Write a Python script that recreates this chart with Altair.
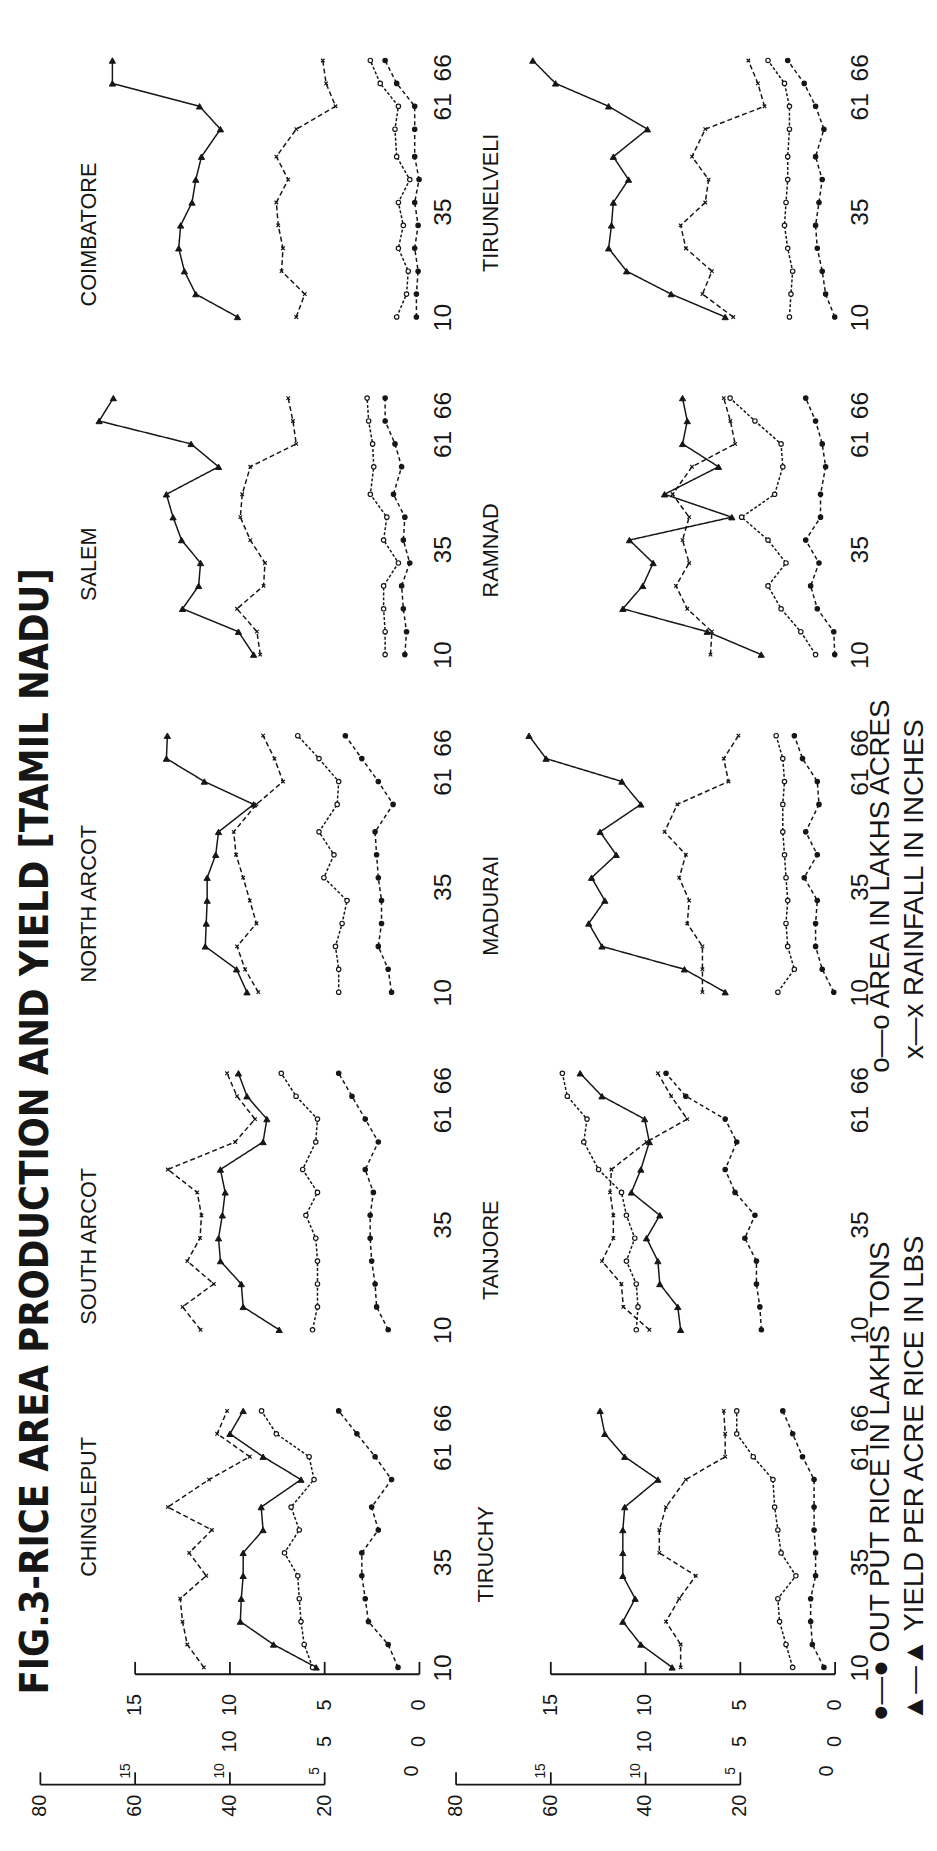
import altair as alt
import pandas as pd

INK = "#161616"

YEARS = [10, 15, 20, 25, 30, 35, 40, 45, 51, 56, 61, 66]
# where the year labels stand along each panel (hand-lettered in the original)
YEAR_LABEL_AT = [10, 33, 56, 64.5]
YEAR_LABELS = ["10", "35", "61", "66"]

COLUMN_1 = ["COIMBATORE", "SALEM", "NORTH ARCOT", "SOUTH ARCOT", "CHINGLEPUT"]
COLUMN_2 = ["TIRUNELVELI", "RAMNAD", "MADURAI", "TANJORE", "TIRUCHY"]

# output of rice, lakhs tons
OUTPUT = {
    "COIMBATORE": [0.16, 0.16, 0.07, 0.25, 0.07, 0.25, 0.02, 0.25, 0.25, 0.25, 1.20, 1.81],
    "SALEM": [0.77, 0.68, 0.85, 0.94, 0.51, 0.85, 0.77, 1.37, 0.94, 1.29, 1.81, 1.81],
    "NORTH ARCOT": [1.47, 1.65, 2.17, 2.00, 2.00, 2.17, 2.26, 2.34, 1.39, 2.17, 3.04, 3.91],
    "SOUTH ARCOT": [1.65, 2.26, 2.34, 2.52, 2.60, 2.60, 2.43, 2.86, 2.17, 2.86, 3.56, 4.26],
    "CHINGLEPUT": [1.13, 1.65, 2.69, 2.86, 3.04, 3.04, 2.17, 2.52, 1.47, 2.34, 3.30, 4.26],
    "TIRUNELVELI": [0.02, 0.50, 0.68, 0.94, 1.03, 0.85, 0.68, 1.03, 0.59, 1.03, 1.63, 2.50],
    "RAMNAD": [0.02, 0.07, 0.94, 1.29, 0.85, 1.55, 0.77, 0.77, 0.50, 0.68, 1.03, 1.55],
    "MADURAI": [0.07, 0.68, 1.03, 1.03, 0.94, 1.63, 0.94, 1.55, 0.85, 0.94, 1.72, 2.15],
    "TANJORE": [3.89, 3.97, 4.15, 4.15, 4.76, 4.23, 5.28, 5.80, 5.19, 5.80, 7.88, 8.92],
    "TIRUCHY": [0.59, 1.20, 1.29, 1.29, 1.03, 1.03, 1.11, 1.11, 1.11, 1.72, 2.24, 2.76],
}

# area under rice, lakhs acres
AREA = {
    "COIMBATORE": [1.20, 0.68, 0.59, 1.11, 0.85, 1.11, 0.51, 1.20, 1.29, 1.11, 2.07, 2.59],
    "SALEM": [1.81, 1.81, 1.89, 1.89, 1.11, 1.89, 1.72, 2.59, 2.41, 2.47, 2.68, 2.76],
    "NORTH ARCOT": [4.26, 4.26, 4.43, 4.08, 3.82, 5.04, 4.51, 5.30, 4.34, 4.26, 5.30, 6.42],
    "SOUTH ARCOT": [5.64, 5.38, 5.38, 5.38, 5.47, 5.99, 5.38, 6.16, 5.47, 5.38, 6.51, 7.29],
    "CHINGLEPUT": [5.64, 6.08, 6.25, 6.34, 6.42, 7.12, 6.34, 6.77, 5.56, 5.82, 7.55, 8.33],
    "TIRUNELVELI": [2.41, 2.33, 2.24, 2.50, 2.67, 2.59, 2.50, 2.50, 2.41, 2.41, 2.67, 3.54],
    "RAMNAD": [1.03, 1.81, 2.85, 3.54, 2.59, 3.54, 4.93, 3.19, 2.76, 2.85, 4.23, 5.54],
    "MADURAI": [3.02, 2.15, 2.50, 2.59, 2.50, 2.59, 2.67, 2.76, 2.76, 2.67, 2.76, 3.11],
    "TANJORE": [10.49, 10.40, 10.49, 11.01, 10.57, 11.01, 11.27, 12.48, 13.26, 13.09, 14.13, 14.39],
    "TIRUCHY": [2.24, 2.59, 2.93, 3.02, 2.07, 2.85, 3.02, 3.19, 3.28, 4.32, 5.19, 5.19],
}

# yield per acre, lbs
YIELD = {
    "COIMBATORE": [960, 1180, 1240, 1270, 1260, 1200, 1180, 1150, 1050, 1160, 1620, 1620],
    "SALEM": [875, 955, 1250, 1165, 1155, 1255, 1300, 1335, 1060, 1205, 1690, 1615],
    "NORTH ARCOT": [910, 965, 1130, 1125, 1120, 1120, 1075, 1060, 875, 1135, 1335, 1330],
    "SOUTH ARCOT": [740, 930, 940, 1050, 1060, 1040, 1025, 1050, 825, 805, 910, 955],
    "CHINGLEPUT": [545, 770, 945, 940, 930, 930, 825, 835, 625, 825, 1000, 930],
    "TIRUNELVELI": [580, 865, 1100, 1195, 1180, 1170, 1090, 1170, 990, 1195, 1475, 1595],
    "RAMNAD": [390, 675, 1120, 1015, 960, 1085, 545, 900, 615, 805, 780, 805],
    "MADURAI": [580, 795, 1230, 1300, 1215, 1285, 1155, 1240, 1025, 1125, 1525, 1615],
    "TANJORE": [815, 830, 925, 935, 995, 925, 1075, 1025, 980, 1005, 1230, 1345],
    "TIRUCHY": [860, 1025, 1120, 1055, 1120, 1120, 1120, 1110, 935, 1110, 1215, 1240],
}

# rainfall, inches
RAIN = {
    "COIMBATORE": [26.0, 24.2, 29.1, 28.8, 29.8, 30.2, 27.7, 30.2, 26.0, 17.7, 19.7, 20.4],
    "SALEM": [33.6, 34.3, 38.5, 32.9, 32.6, 35.7, 37.8, 37.4, 35.7, 26.0, 26.7, 27.7],
    "NORTH ARCOT": [34.0, 36.8, 38.5, 34.4, 35.8, 37.2, 38.7, 39.2, 34.4, 28.8, 30.6, 33.0],
    "SOUTH ARCOT": [46.2, 50.0, 43.4, 49.0, 46.3, 46.0, 46.9, 53.1, 38.9, 34.7, 38.5, 40.6],
    "CHINGLEPUT": [45.5, 49.0, 50.0, 50.5, 45.0, 48.6, 43.8, 53.1, 44.4, 35.8, 42.7, 40.6],
    "TIRUNELVELI": [21.5, 28.0, 26.0, 31.5, 32.6, 27.4, 26.7, 30.2, 27.4, 14.9, 16.3, 18.3],
    "RAMNAD": [26.3, 26.0, 31.2, 33.6, 30.8, 32.2, 30.8, 34.3, 30.2, 21.1, 22.1, 23.5],
    "MADURAI": [28.0, 28.0, 28.0, 31.2, 30.8, 32.9, 31.5, 36.0, 33.3, 22.5, 23.5, 20.4],
    "TANJORE": [39.2, 44.7, 45.1, 49.2, 46.8, 46.8, 47.5, 47.2, 39.8, 31.2, 34.6, 37.4],
    "TIRUCHY": [32.6, 32.6, 35.7, 32.9, 29.4, 37.1, 37.1, 35.7, 31.5, 23.2, 23.2, 23.5],
}

# scale furniture under the bottom panels (values on the 0-15 / 0-80 scales)
SCALE_TICKS = [0, 5, 10, 15]
LABELS_ROW_1 = [0, 5, 10, 15]
LABELS_ROW_2 = [0, 5, 10]
LABELS_SMALL = [5, 10, 15]
RAIN_TICKS = [20, 40, 60, 80]

TITLE = "FIG.3-RICE AREA PRODUCTION AND YIELD [TAMIL NADU]"
LEGEND_1 = ["\u25cf\u2014\u25cf OUT PUT RICE IN LAKHS TONS", "o\u2014o AREA IN LAKHS ACRES"]
LEGEND_2 = ["\u25b2\u2014\u25b2 YIELD PER ACRE RICE IN LBS", "x\u2014x RAINFALL IN INCHES"]

# centre of each district name, measured down from the top of its panel
NAME_Y = {
    "COIMBATORE": 192, "SALEM": 184, "NORTH ARCOT": 186, "SOUTH ARCOT": 191, "CHINGLEPUT": 113,
    "TIRUNELVELI": 160, "RAMNAD": 170, "MADURAI": 188, "TANJORE": 195, "TIRUCHY": 161,
}

FONT = "Liberation Sans"
TITLE_FONT = "Liberation Sans Narrow, DejaVu Sans Condensed, Liberation Sans, sans-serif"

# ---------------------------------------------------------------- tables
rows = []
for d in COLUMN_1 + COLUMN_2:
    for i, yr in enumerate(YEARS):
        rows.append({"district": d, "year": yr, "series": "yield", "pos": YIELD[d][i] / 100.0})
        rows.append({"district": d, "year": yr, "series": "rain", "pos": RAIN[d][i] / 4.0})
        rows.append({"district": d, "year": yr, "series": "area", "pos": AREA[d][i]})
        rows.append({"district": d, "year": yr, "series": "output", "pos": OUTPUT[d][i]})
df = pd.DataFrame(rows)

# rows of the scale furniture, in the year units of the panel's vertical scale
ROW_AXIS_A, ROW_LAB_1, ROW_LAB_2, ROW_SMALL, ROW_AXIS_C, ROW_LAB_4 = 8.5, 1.8, -6.2, -12.6, -15.6, -20.2
TICK_LEN = 2.7

seg_df = pd.DataFrame({"a": [0, 5], "b": [15, 20], "lvl": [ROW_AXIS_A, ROW_AXIS_C]})
tick_df = pd.DataFrame(
    [{"t": t, "y0": ROW_AXIS_A, "y1": ROW_AXIS_A + TICK_LEN} for t in SCALE_TICKS]
    + [{"t": r / 4.0, "y0": ROW_AXIS_C, "y1": ROW_AXIS_C + TICK_LEN} for r in RAIN_TICKS])
lab_df = pd.DataFrame(
    [{"p": v, "row": ROW_LAB_1, "txt": str(v)} for v in LABELS_ROW_1]
    + [{"p": v, "row": ROW_LAB_2, "txt": str(v)} for v in LABELS_ROW_2]
    + [{"p": 0.4, "row": ROW_SMALL, "txt": "0"}]
    + [{"p": r / 4.0, "row": ROW_LAB_4, "txt": str(r)} for r in RAIN_TICKS])
small_df = pd.DataFrame([{"p": v + 0.5, "row": ROW_SMALL, "txt": str(v)} for v in LABELS_SMALL])

SERIES = ["yield", "rain", "area", "output"]
X_PATH = "M-0.8,-0.8L0.8,0.8M-0.8,0.8L0.8,-0.8"
PX = 19.2  # pixels per scale unit
PY = 4.64  # pixels per year
XDOM = {1: [-0.5, 21.5], 2: [-0.5, 21.4]}
W = {c: round((XDOM[c][1] - XDOM[c][0]) * PX, 2) for c in XDOM}
YTOP = 69.5
YLOW = {False: 8.5, True: -24.0}

label_expr = " : ".join(
    f"datum.value == {v} ? '{t}'" for v, t in zip(YEAR_LABEL_AT, YEAR_LABELS)) + " : ''"


def xscale(c):
    return alt.Scale(domain=XDOM[c], reverse=True, nice=False, zero=False)


def name_title(name, c):
    return dict(title=name, titleAngle=270, titleAlign="center", titleBaseline="top",
                titleX=-354.6 if c == 1 else -369, titleY=NAME_Y[name],
                titleFontSize=22, titleFont=FONT, titleFontWeight="normal", titleColor=INK)


def panel(name, c, bottom):
    d = df[df.district == name]
    ysc = alt.Scale(domain=[YLOW[bottom], YTOP], nice=False, zero=False)
    height = round((YTOP - YLOW[bottom]) * PY, 2)
    if name == "TIRUCHY":
        ytitle = dict(title=[LEGEND_1[0] + "\u00a0" * 22 + LEGEND_1[1],
                             LEGEND_2[0] + "\u00a0" * 23 + LEGEND_2[1]],
                      titleAngle=270, titleAlign="left", titleBaseline="top",
                      titleX=23, titleY=330, titleFontSize=28, titleLineHeight=34,
                      titleFont=FONT, titleFontWeight="normal", titleColor=INK)
    else:
        ytitle = name_title(name, c)
    yax = alt.Axis(orient="right", values=YEAR_LABEL_AT, labelExpr=label_expr,
                   labelAngle=270, labelAlign="center",
                   labelBaseline="top", labelPadding=2 if c == 1 else 3, labelFontSize=25,
                   labelFont=FONT, labelColor=INK, domain=False, ticks=False, grid=False,
                   labelFlush=False, labelOverlap=False, **ytitle)
    xax = None
    if bottom:
        if c == 1:
            xt = dict(title=TITLE, titleAngle=270, titleAlign="left", titleBaseline="top",
                      titleX=4, titleY=round(1700 - 1397 - height, 2), titleFontSize=40,
                      titleFont=TITLE_FONT, titleFontWeight="bold", titleColor=INK)
        else:
            xt = dict(title="TIRUCHY", titleAngle=270, titleAlign="center",
                      titleBaseline="top", titleX=47, titleY=round(1558 - 1397 - height, 2),
                      titleFontSize=22, titleFont=FONT, titleFontWeight="normal",
                      titleColor=INK)
        xax = alt.Axis(labels=False, ticks=False, domain=False, grid=False, **xt)

    base = alt.Chart(d).encode(
        x=alt.X("pos:Q", scale=xscale(c), axis=xax),
        y=alt.Y("year:Q", scale=ysc, axis=yax),
        detail="series:N",
        order=alt.Order("year:Q"),
    )
    lines = base.mark_line(stroke=INK, strokeWidth=1.5).encode(
        strokeDash=alt.StrokeDash("series:N", legend=None, scale=alt.Scale(
            domain=SERIES, range=[[1, 0], [5, 3], [3, 2], [4, 3]])))
    shape = alt.Shape("series:N", legend=None, scale=alt.Scale(
        domain=SERIES, range=["triangle-up", X_PATH, "circle", "circle"]))
    fill = alt.Fill("series:N", legend=None, scale=alt.Scale(
        domain=SERIES, range=[INK, INK, "white", INK]))
    tri = base.transform_filter(alt.datum.series == "yield").mark_point(
        filled=True, stroke=INK, strokeWidth=1, opacity=1, size=40).encode(shape=shape, fill=fill)
    other = base.transform_filter(alt.datum.series != "yield").mark_point(
        filled=True, stroke=INK, strokeWidth=1.2, opacity=1, size=20).encode(shape=shape, fill=fill)
    layers = [lines, tri, other]

    if bottom:
        sc = xscale(c)
        segs = alt.Chart(seg_df).mark_rule(stroke=INK, strokeWidth=1.8).encode(
            x=alt.X("a:Q", scale=sc), x2="b:Q", y=alt.Y("lvl:Q", scale=ysc))
        ticks = alt.Chart(tick_df).mark_rule(stroke=INK, strokeWidth=1.8).encode(
            x=alt.X("t:Q", scale=sc), y=alt.Y("y0:Q", scale=ysc), y2="y1:Q")
        labs = alt.Chart(lab_df).mark_text(angle=270, fontSize=20, font=FONT, color=INK,
                                           align="center", baseline="middle").encode(
            x=alt.X("p:Q", scale=sc), y=alt.Y("row:Q", scale=ysc), text="txt:N")
        smalls = alt.Chart(small_df).mark_text(angle=270, fontSize=14, font=FONT, color=INK,
                                               align="center", baseline="middle").encode(
            x=alt.X("p:Q", scale=sc), y=alt.Y("row:Q", scale=ysc), text="txt:N")
        layers += [segs, ticks, labs, smalls]

    return alt.layer(*layers).properties(width=W[c], height=height)


cells = []
for i in range(5):
    cells.append(panel(COLUMN_1[i], 1, i == 4))
    cells.append(panel(COLUMN_2[i], 2, i == 4))

chart = alt.concat(*cells, columns=2, spacing={"row": 58, "column": 0},
                   bounds="flush", align="each").properties(
    padding={"left": 4, "top": 25, "right": 0, "bottom": 4},
    background="white",
).configure_view(stroke=None)

chart.save("out.html", embed_options={"renderer": "svg", "actions": False})
